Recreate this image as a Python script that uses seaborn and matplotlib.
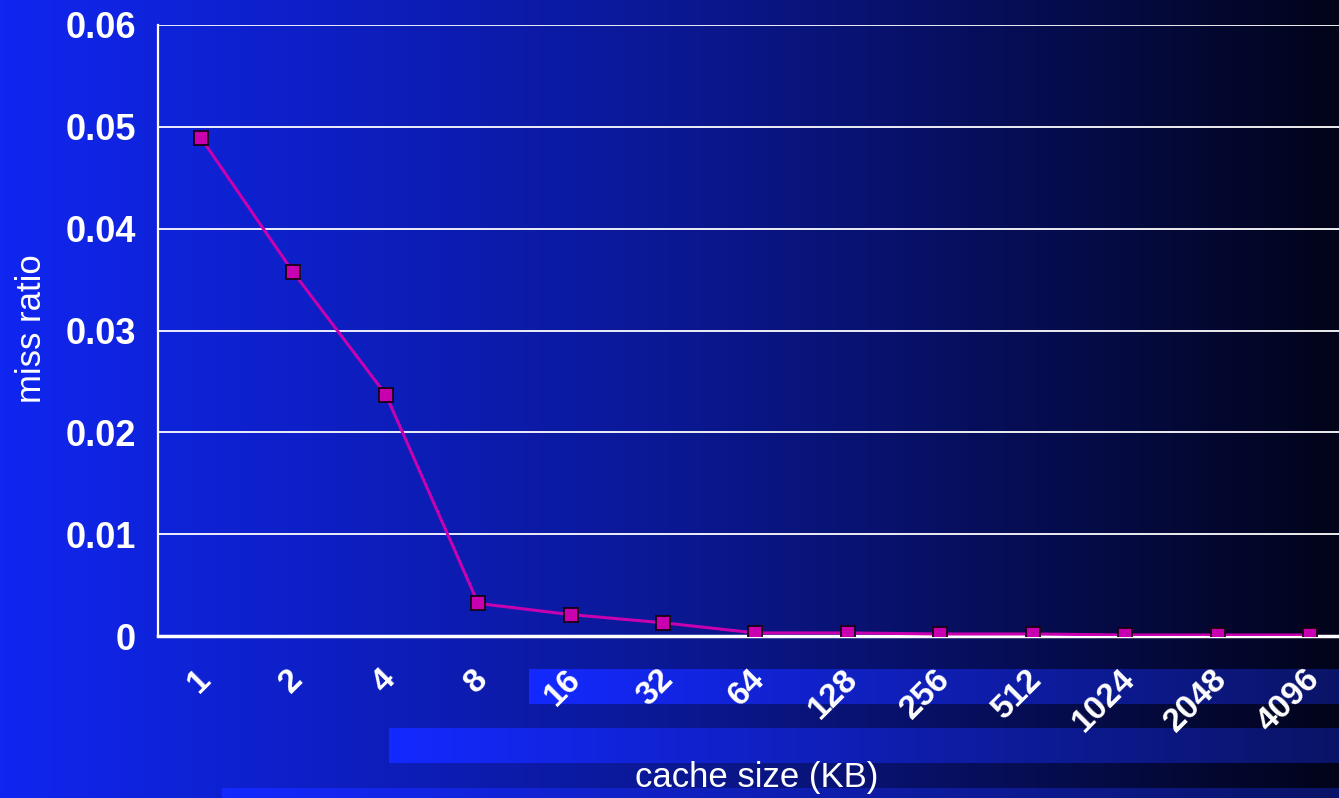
import numpy as np
import matplotlib
matplotlib.use("Agg")
import matplotlib.pyplot as plt
import matplotlib.transforms as mtransforms
from matplotlib.colors import LinearSegmentedColormap
import seaborn as sns

# Cache size (KB) and measured miss ratio
cache_sizes = ["1", "2", "4", "8", "16", "32", "64", "128", "256", "512", "1024", "2048", "4096"]
miss_ratio = [0.0489, 0.0357, 0.0237, 0.0032, 0.0021, 0.0013, 0.0003,
              0.0003, 0.0002, 0.0002, 0.0001, 0.0001, 0.0001]
y_ticks = [0.0, 0.01, 0.02, 0.03, 0.04, 0.05, 0.06]
y_tick_labels = ["0", "0.01", "0.02", "0.03", "0.04", "0.05", "0.06"]

sns.set_theme(style="white")
plt.rcParams["font.family"] = ["Liberation Sans", "DejaVu Sans"]

W, H = 1339, 798
fig = plt.figure(figsize=(W / 100, H / 100), dpi=100)

# Slide background: horizontal blue-to-black gradient plus decorative bands
bg = fig.add_axes([0, 0, 1, 1], zorder=0)
grad = np.linspace(0, 1, 2048).reshape(1, -1)
slide = LinearSegmentedColormap.from_list("slide", ["#1026f0", "#0b1894", "#02041a"])
bg.imshow(grad, cmap=slide, extent=(0, W, H, 0), aspect="auto", interpolation="nearest")
band = LinearSegmentedColormap.from_list("band", ["#1429ff", "#0a1466"])
for x0, y0, y1 in [(529, 669, 704), (389, 728, 763), (222, 788, 798)]:
    bg.imshow(grad, cmap=band, extent=(x0, W, y1, y0), aspect="auto", interpolation="nearest")
bg.set_xlim(0, W)
bg.set_ylim(H, 0)
bg.axis("off")

# Plot area
ax = fig.add_axes([158 / W, (H - 636) / H, (W - 158) / W, 611 / H], zorder=1)
ax.patch.set_alpha(0)

positions = np.arange(len(cache_sizes))
sns.lineplot(x=positions, y=miss_ratio, ax=ax, color="#c800b0", linewidth=2.2,
             marker="s", markersize=9.5, markeredgecolor="#1a0012",
             markeredgewidth=1.3, zorder=5)

ax.set_xlim(-0.465, 12.314)
ax.set_ylim(0, 0.06)
ax.set_yticks(y_ticks)
ax.set_yticklabels(y_tick_labels, fontsize=26, fontweight="bold", color="white")
ax.yaxis.grid(True, color="white", linewidth=1.3)
ax.xaxis.grid(False)

ax.set_xticks(positions)
ax.set_xticklabels(cache_sizes, rotation=45, ha="right", va="center",
                   rotation_mode="anchor", fontsize=24, fontweight="bold", color="white")

ax.tick_params(axis="x", length=0, pad=28)
ax.tick_params(axis="y", length=0, pad=16)

# Nudge the rotated category labels slightly to the right of their ticks
shift = mtransforms.ScaledTranslation(5 / 100, 0, fig.dpi_scale_trans)
for lab in ax.get_xticklabels():
    lab.set_transform(lab.get_transform() + shift)

for side in ("top", "right"):
    ax.spines[side].set_visible(False)
ax.spines["left"].set_color("white")
ax.spines["left"].set_linewidth(1.6)
ax.spines["bottom"].set_color("white")
ax.spines["bottom"].set_linewidth(2.5)

ax.set_ylabel("miss ratio", color="white", fontsize=25, va="center")
ax.yaxis.set_label_coords(-0.1067, 0.503)
ax.set_xlabel("cache size (KB)", color="white", fontsize=25, va="center")
ax.xaxis.set_label_coords(0.507, -0.232)

fig.savefig("out.png", dpi=100)
